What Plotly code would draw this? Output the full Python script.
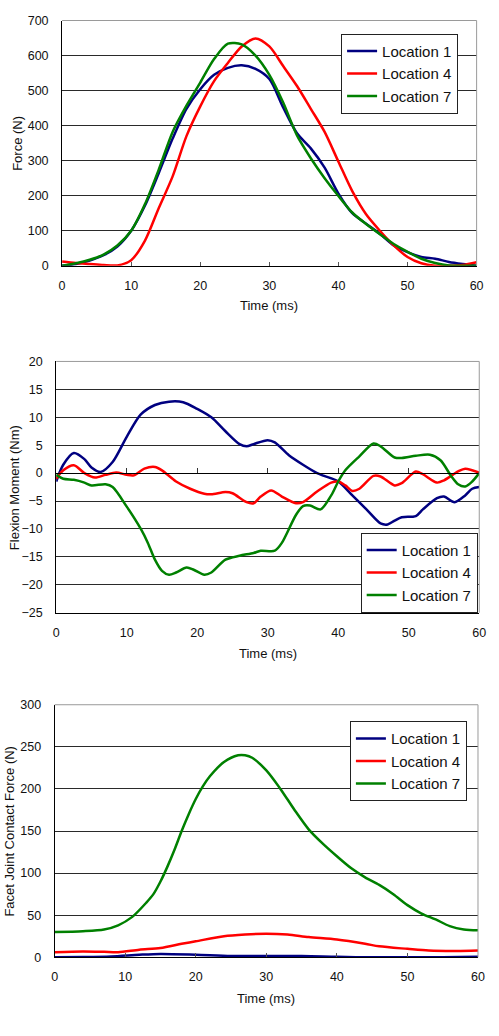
import plotly.graph_objects as go

# ---------------- data ----------------
t_force = [0, 2, 4, 6, 8, 10, 12, 14, 16, 18, 20, 22, 24, 26, 28, 30, 32, 34, 36, 38, 40,
           42, 44, 46, 48, 50, 52, 54, 56, 58, 60]
force_loc1 = [0, 5, 15, 30, 55, 100, 172, 265, 363, 448, 504, 545, 565, 572, 562, 533, 452,
              378, 335, 280, 206, 150, 120, 91, 58, 39, 25, 20, 11, 5, 0]
force_loc4 = [12, 8, 5, 2, 1, 16, 72, 165, 255, 370, 455, 527, 579, 626, 649, 626, 570,
              513, 448, 382, 297, 213, 147, 100, 58, 25, 7, 0, 0, 2, 10]
force_loc7 = [0, 7, 17, 32, 58, 100, 176, 275, 382, 457, 523, 590, 634, 632, 600, 545, 466,
              372, 307, 250, 199, 152, 119, 90, 62, 40, 20, 8, 1, 0, 0]

t_m1 = [0, 1, 2.5, 4, 5, 6.3, 8, 10, 12, 14, 16, 18, 20, 22, 24, 26, 27, 28, 30, 31, 33, 35,
        37, 38, 40, 42, 44, 46, 47, 48, 49, 51, 52, 54, 55, 56.5, 58, 59, 60]
moment_loc1 = [-1.5, 1.5, 3.6, 2.5, 1, 0.2, 2, 6.5, 10.5, 12.2, 12.8, 12.7, 11.5, 10, 7.5,
               5.2, 4.8, 5.2, 5.9, 5.5, 3.2, 1.5, 0, -0.5, -1.5, -4, -6.5, -9, -9.2, -8.5,
               -7.9, -7.7, -6.5, -4.5, -4.2, -5.2, -4, -2.8, -2.5]
t_m4 = [0, 1, 2.5, 4, 5.5, 7, 8.5, 10, 11, 12.5, 14, 15, 17, 19, 21, 22, 24, 25, 27, 28, 29,
        30.5, 32, 34, 35, 37, 39, 40, 41, 42, 43, 45, 46, 48, 49, 51, 52, 54, 55, 57, 58, 60]
moment_loc4 = [-1, 0.5, 1.4, 0, -0.8, -0.3, 0.1, -0.3, -0.4, 0.8, 1.1, 0.5, -1.5, -2.8, -3.7,
               -3.8, -3.4, -3.6, -5.2, -5.4, -4.2, -3.1, -4.2, -5.4, -5.2, -3.3, -1.7, -1.5,
               -2.2, -3.2, -2.8, -0.5, -0.6, -2.2, -1.8, 0.3, -0.2, -1.7, -1.3, 0.3, 0.8, 0.1]
t_m7 = [0, 1, 2.5, 4, 5, 7, 8, 10, 12, 13, 14, 15, 16, 17, 18.5, 19.5, 21, 22, 24, 26, 28,
        29, 31, 32, 34, 35, 36, 37.5, 39, 40, 41, 43, 45, 46, 48, 49, 51, 53, 54.5, 56, 57,
        58, 59, 60]
moment_loc7 = [-0.3, -1, -1.2, -1.7, -2.2, -2, -2.5, -6, -10, -12.5, -15.5, -17.5, -18.2,
               -17.8, -16.9, -17.3, -18.2, -17.8, -15.5, -14.8, -14.3, -13.9, -13.9, -12.5,
               -7.5, -5.9, -5.8, -6.5, -4, -1.5, 0.5, 3, 5.3, 4.8, 2.8, 2.7, 3.1, 3.3, 2.3,
               -0.5, -2, -2.4, -1.5, 0]

t_f1 = [0, 4, 8, 12, 15, 20, 25, 30, 35, 38, 40, 45, 50, 55, 60]
facet_loc1 = [0, 0.3, 1, 3, 4, 3, 1.5, 1.5, 1.5, 1, 0.5, 0, 0, 0, 0.5]
t_f4 = [0, 4, 7, 9, 12, 15, 18, 20, 24, 27, 30, 33, 36, 40, 44, 46, 50, 53, 57, 60]
facet_loc4 = [6, 7, 6.5, 6, 9, 11, 16, 19, 25, 27, 28, 27, 24, 21, 16, 13, 10, 8, 7.5, 8]
t_f7 = [0, 4, 7, 9, 11, 13, 14, 15, 16, 17, 18, 19, 20, 21, 22, 24, 26, 27, 28, 30, 32, 34,
        36, 38, 40, 42, 44, 46, 48, 50, 52, 54, 56, 58, 60]
facet_loc7 = [30, 31, 33, 38, 48, 65, 75, 90, 108, 128, 150, 170, 188, 203, 215, 232, 240,
              240, 237, 222, 200, 175, 152, 135, 120, 106, 95, 86, 75, 62, 52, 45, 37, 33, 32]

series_names = ["Location 1", "Location 4", "Location 7"]
colors = ["#000080", "#FF0000", "#008000"]

panels = [
    dict(t=[t_force, t_force, t_force], y=[force_loc1, force_loc4, force_loc7],
         yrange=[0, 700], dtick=100, ytitle="Force (N)"),
    dict(t=[t_m1, t_m4, t_m7], y=[moment_loc1, moment_loc4, moment_loc7],
         yrange=[-25, 20], dtick=5, ytitle="Flexion Moment (Nm)"),
    dict(t=[t_f1, t_f4, t_f7], y=[facet_loc1, facet_loc4, facet_loc7],
         yrange=[0, 300], dtick=50, ytitle="Facet Joint Contact Force (N)"),
]

# ---------------- layout geometry (pixels) ----------------
W, H = 499, 1036
px_x = [(60.3, 483.3), (54.3, 486.0), (52.7, 484.7)]
px_y = [(13.7, 262.3), (359.3, 614.0), (707.3, 963.3)]
ytitle_x = [14, 12, 7]
ytitle_y = [138, 487, 835]
xtitle_y = [303, 655, 1005]
legend_pos = [(345, 27), (365, 533), (354, 724)]

FONT = "Liberation Sans, Arial, sans-serif"
TXT = "#111111"
GRID = "#2a2a2a"
BORDER = "#9a9a9a"

fig = go.Figure()
layout = dict(width=W, height=H, margin=dict(l=0, r=0, t=0, b=0),
              paper_bgcolor="white", plot_bgcolor="white", showlegend=True,
              font=dict(family=FONT, color=TXT))
annotations = []
shapes = []

for i, p in enumerate(panels):
    n = i + 1
    xa = "x" if n == 1 else f"x{n}"
    ya = "y" if n == 1 else f"y{n}"
    lg = "legend" if n == 1 else f"legend{n}"
    for k in range(3):
        fig.add_trace(go.Scatter(
            x=p["t"][k], y=p["y"][k], mode="lines", name=series_names[k],
            line=dict(color=colors[k], width=2.5, shape="spline", smoothing=0.8),
            xaxis=xa, yaxis=ya, legend=lg,
            hoverinfo="skip"))
    xd = [px_x[i][0] / W, px_x[i][1] / W]
    yd = [1 - px_y[i][1] / H, 1 - px_y[i][0] / H]
    inside_ticks = (n != 2)
    layout[f"xaxis{'' if n == 1 else n}"] = dict(
        domain=xd, anchor=ya, range=[0, 60], dtick=10, tick0=0,
        showgrid=False, zeroline=False, showline=True, linecolor="#000000", linewidth=1,
        ticks="inside" if inside_ticks else "", ticklen=4, tickcolor="#555555",
        tickfont=dict(size=12.5, family=FONT, color=TXT), ticklabelstandoff=8,
        fixedrange=True)
    layout[f"yaxis{'' if n == 1 else n}"] = dict(
        domain=yd, anchor=xa, range=p["yrange"], dtick=p["dtick"],
        showgrid=True, gridcolor=GRID, gridwidth=1, zeroline=False,
        showline=True, linecolor="#000000", linewidth=1, ticks="",
        tickfont=dict(size=12.5, family=FONT, color=TXT), ticklabelstandoff=10,
        fixedrange=True)
    # axis titles
    annotations.append(dict(text=p["ytitle"], x=ytitle_x[i] / W, y=1 - ytitle_y[i] / H,
                            xref="paper", yref="paper", showarrow=False, textangle=-90,
                            font=dict(size=13, family=FONT, color=TXT),
                            xanchor="center", yanchor="middle"))
    annotations.append(dict(text="Time (ms)", x=(px_x[i][0] + px_x[i][1]) / 2 / W,
                            y=1 - xtitle_y[i] / H, xref="paper", yref="paper",
                            showarrow=False, font=dict(size=13, family=FONT, color=TXT),
                            xanchor="center", yanchor="middle"))
    # gray top / right border
    xdref = f"{xa} domain"
    ydref = f"{ya} domain"
    shapes.append(dict(type="line", xref=xdref, yref=ydref, x0=0, x1=1, y0=1, y1=1,
                       line=dict(color=BORDER, width=1), layer="above"))
    shapes.append(dict(type="line", xref=xdref, yref=ydref, x0=1, x1=1, y0=0, y1=1,
                       line=dict(color=BORDER, width=1), layer="above"))
    lx, ly = legend_pos[i]
    layout[lg] = dict(x=lx / W, y=1 - ly / H, xanchor="left", yanchor="top",
                      bgcolor="white", bordercolor="#222222", borderwidth=1,
                      font=dict(size=15, family=FONT, color=TXT),
                      tracegroupgap=0, itemwidth=30)

# zero-crossing x axis with tick marks for the moment panel
yr = panels[1]["yrange"]
yd2 = layout["yaxis2"]["domain"]
zero_pos = yd2[0] + (0 - yr[0]) / (yr[1] - yr[0]) * (yd2[1] - yd2[0])
layout["xaxis4"] = dict(overlaying="x2", anchor="free", position=zero_pos,
                        domain=layout["xaxis2"]["domain"], range=[0, 60], dtick=10,
                        showticklabels=False, showgrid=False, zeroline=False,
                        showline=True, linecolor="#000000", linewidth=1,
                        ticks="inside", ticklen=5, tickcolor="#333333", fixedrange=True)
fig.add_trace(go.Scatter(x=[None], y=[None], xaxis="x4", yaxis="y2", showlegend=False,
                         hoverinfo="skip"))

layout["annotations"] = annotations
layout["shapes"] = shapes
fig.update_layout(**layout)

POST = (
    "var st=document.createElement('style');"
    "st.innerHTML='html,body{margin:0 !important;padding:0 !important;overflow:hidden !important;}';"
    "document.head.appendChild(st);"
    "var gd=document.getElementById('{plot_id}');"
    "gd.style.position='absolute';gd.style.left='0px';gd.style.top='0px';"
)
fig.write_html("out.html", config={"displayModeBar": False}, post_script=POST)
